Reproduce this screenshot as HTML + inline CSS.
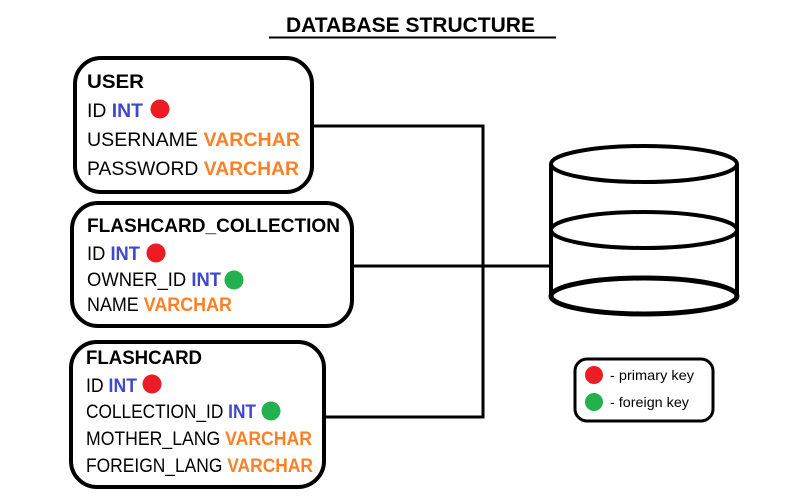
<!DOCTYPE html>
<html><head><meta charset="utf-8"><style>html,body{margin:0;padding:0;background:#fff}svg{display:block}</style></head>
<body>
<svg width="800" height="500" viewBox="0 0 800 500" xmlns="http://www.w3.org/2000/svg" font-family="Liberation Sans, sans-serif">
<rect width="800" height="500" fill="#fff"/>
<text x="286" y="32" font-size="21" font-weight="bold" textLength="249" lengthAdjust="spacingAndGlyphs">DATABASE STRUCTURE</text>
<line x1="269" y1="37.5" x2="556" y2="37.5" stroke="#000" stroke-width="2"/>
<g fill="none" stroke="#000" stroke-width="4">
<polyline points="312,126 483,126 483,417 324,417" stroke-width="3"/>
<line x1="352" y1="266" x2="551" y2="266" stroke-width="3"/>
<rect x="75" y="58" width="237" height="134" rx="26"/>
<rect x="72" y="203" width="280" height="123" rx="26"/>
<rect x="71" y="342" width="253" height="145" rx="26"/>
<path d="M551,164 L551,296 M737,164 L737,296" />
<ellipse cx="644" cy="164" rx="93" ry="18" fill="#fff"/>
<ellipse cx="644" cy="230" rx="93" ry="18" fill="#fff"/>
<path d="M551,296 A93,18 0 0 0 737,296 A93,18 0 0 0 551,296" fill="#fff" stroke-width="5"/>
<rect x="575" y="359" width="138" height="62" rx="12" stroke-width="3"/>
</g>
<g font-size="19">
<text x="87" y="88" font-weight="bold" textLength="57" lengthAdjust="spacingAndGlyphs">USER</text>
<text x="87" y="117" textLength="56" lengthAdjust="spacingAndGlyphs">ID <tspan fill="#3f48cc" font-weight="bold">INT</tspan></text>
<text x="87" y="146" textLength="213" lengthAdjust="spacingAndGlyphs">USERNAME <tspan fill="#ff7f27" font-weight="bold">VARCHAR</tspan></text>
<text x="87" y="175" textLength="212" lengthAdjust="spacingAndGlyphs">PASSWORD <tspan fill="#ff7f27" font-weight="bold">VARCHAR</tspan></text>

<text x="87" y="232" font-weight="bold" textLength="253" lengthAdjust="spacingAndGlyphs">FLASHCARD_COLLECTION</text>
<text x="87" y="260" textLength="53" lengthAdjust="spacingAndGlyphs">ID <tspan fill="#3f48cc" font-weight="bold">INT</tspan></text>
<text x="87" y="286" textLength="134" lengthAdjust="spacingAndGlyphs">OWNER_ID <tspan fill="#3f48cc" font-weight="bold">INT</tspan></text>
<text x="87" y="311" textLength="145" lengthAdjust="spacingAndGlyphs">NAME <tspan fill="#ff7f27" font-weight="bold">VARCHAR</tspan></text>

<text x="86" y="364" font-weight="bold" textLength="116" lengthAdjust="spacingAndGlyphs">FLASHCARD</text>
<text x="86" y="392" textLength="51" lengthAdjust="spacingAndGlyphs">ID <tspan fill="#3f48cc" font-weight="bold">INT</tspan></text>
<text x="86" y="418" textLength="170" lengthAdjust="spacingAndGlyphs">COLLECTION_ID <tspan fill="#3f48cc" font-weight="bold">INT</tspan></text>
<text x="86" y="445" textLength="226" lengthAdjust="spacingAndGlyphs">MOTHER_LANG <tspan fill="#ff7f27" font-weight="bold">VARCHAR</tspan></text>
<text x="86" y="472" textLength="227" lengthAdjust="spacingAndGlyphs">FOREIGN_LANG <tspan fill="#ff7f27" font-weight="bold">VARCHAR</tspan></text>
</g>
<g>
<circle cx="160" cy="109" r="9.5" fill="#ed1c24"/>
<circle cx="156" cy="253" r="9.5" fill="#ed1c24"/>
<circle cx="234" cy="280" r="9.5" fill="#22b14c"/>
<circle cx="152" cy="384" r="9.5" fill="#ed1c24"/>
<circle cx="271" cy="411" r="9.5" fill="#22b14c"/>
<circle cx="594" cy="375" r="9" fill="#ed1c24"/>
<circle cx="594" cy="402" r="9" fill="#22b14c"/>
</g>
<text x="610" y="380" font-size="14" textLength="84" lengthAdjust="spacingAndGlyphs">- primary key</text>
<text x="610" y="407" font-size="14" textLength="79" lengthAdjust="spacingAndGlyphs">- foreign key</text>
</svg>
</body></html>
